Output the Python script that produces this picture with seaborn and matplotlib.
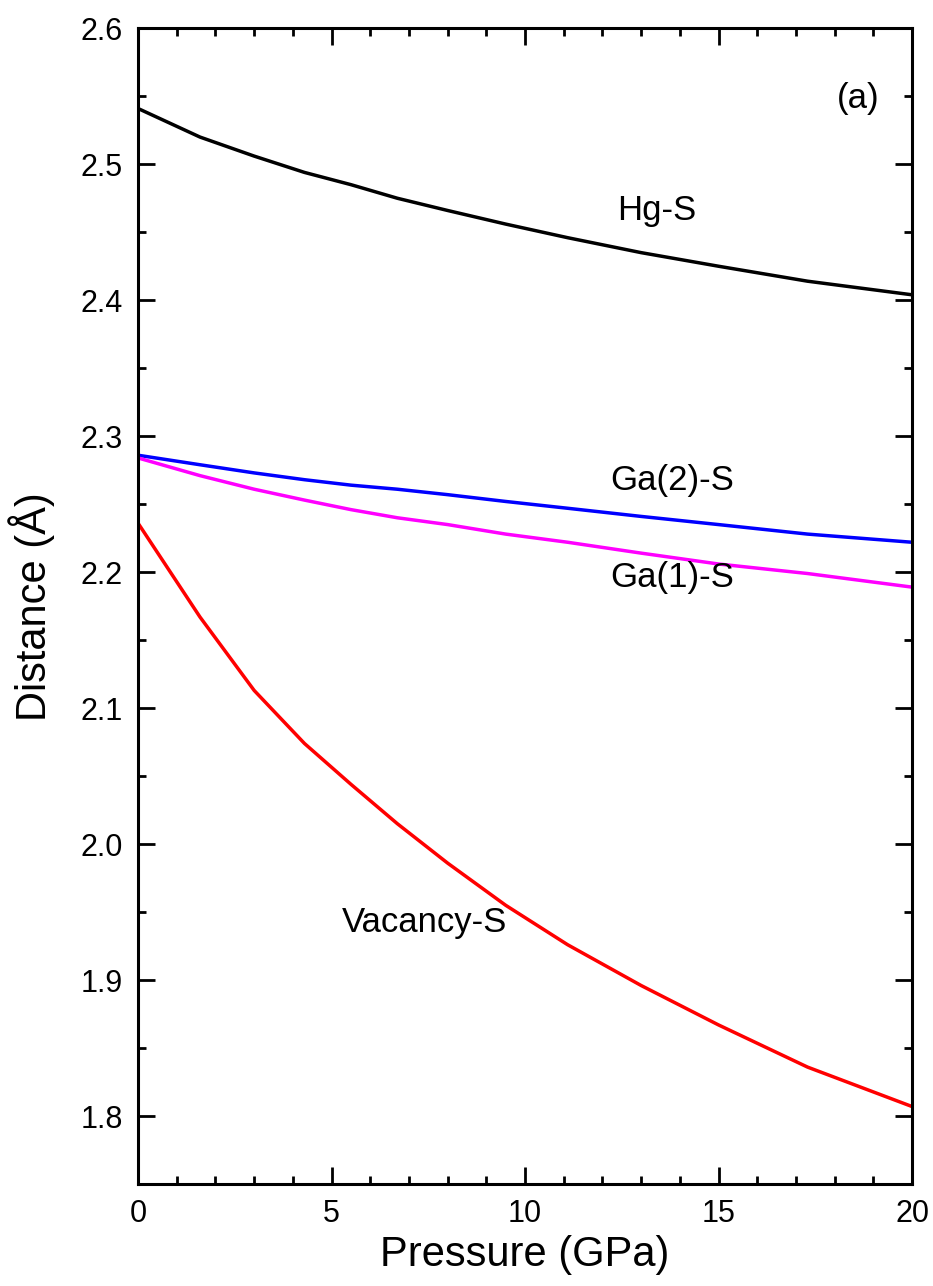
import numpy as np
import pandas as pd
import matplotlib
matplotlib.use("Agg")
import matplotlib.pyplot as plt
import seaborn as sns
from matplotlib.ticker import MultipleLocator

# ---- data ----
pressure = [0, 1.6, 3.0, 4.3, 5.5, 6.7, 8.0, 9.5, 11.1, 13.0, 15.0, 17.3, 20]
hg_s = [2.541, 2.520, 2.506, 2.494, 2.485, 2.475, 2.466, 2.456, 2.446, 2.435, 2.425, 2.414, 2.404]
ga2_s = [2.286, 2.279, 2.273, 2.268, 2.264, 2.261, 2.257, 2.252, 2.247, 2.241, 2.235, 2.228, 2.222]
ga1_s = [2.284, 2.271, 2.261, 2.253, 2.246, 2.240, 2.235, 2.228, 2.222, 2.214, 2.206, 2.199, 2.189]
vac_s = [2.236, 2.167, 2.113, 2.074, 2.044, 2.015, 1.986, 1.955, 1.926, 1.896, 1.867, 1.836, 1.807]

series_names = ["Hg-S", "Ga(2)-S", "Ga(1)-S", "Vacancy-S"]
series_values = [hg_s, ga2_s, ga1_s, vac_s]
series_colors = ["#000000", "#0000ff", "#ff00ff", "#ff0000"]

x_ticks = [0, 5, 10, 15, 20]
y_ticks = [1.8, 1.9, 2.0, 2.1, 2.2, 2.3, 2.4, 2.5, 2.6]

df = pd.DataFrame({
    "Pressure": np.tile(pressure, len(series_names)),
    "Distance": np.concatenate(series_values),
    "Bond": np.repeat(series_names, len(pressure)),
})

sns.set_style("ticks")
plt.rcParams["font.family"] = ["Liberation Sans", "DejaVu Sans"]
plt.rcParams["text.color"] = "black"
plt.rcParams["axes.labelcolor"] = "black"
plt.rcParams["xtick.color"] = "black"
plt.rcParams["ytick.color"] = "black"

fig = plt.figure(figsize=(9.33, 12.86), dpi=100)
ax = fig.add_axes([0.148, 0.0793, 0.8295, 0.8987])

sns.lineplot(data=df, x="Pressure", y="Distance", hue="Bond",
             palette=dict(zip(series_names, series_colors)),
             hue_order=series_names, linewidth=2.5, legend=False, ax=ax,
             sort=False)

ax.set_xlim(0, 20)
ax.set_ylim(1.75, 2.6)
ax.set_xticks(x_ticks)
ax.set_yticks(y_ticks)
ax.set_xticklabels([str(t) for t in x_ticks])
ax.set_yticklabels([f"{t:.1f}" for t in y_ticks])
ax.xaxis.set_minor_locator(MultipleLocator(1))
ax.yaxis.set_minor_locator(MultipleLocator(0.05))

ax.tick_params(which="both", direction="in", top=True, right=True,
               width=2.0, color="black", labelcolor="black")
ax.tick_params(which="major", length=12, labelsize=22, pad=11)
ax.tick_params(which="minor", length=6)
for sp in ax.spines.values():
    sp.set_linewidth(2.2)
    sp.set_color("black")

ax.set_xlabel("Pressure (GPa)", fontsize=30, labelpad=4, color="black")
ax.set_ylabel("Distance (Å)", fontsize=30, labelpad=18, color="black")

ax.text(13.4, 2.466, "Hg-S", fontsize=25, ha="center", va="center")
ax.text(13.8, 2.2676, "Ga(2)-S", fontsize=25, ha="center", va="center")
ax.text(13.8, 2.196, "Ga(1)-S", fontsize=25, ha="center", va="center")
ax.text(7.4, 1.942, "Vacancy-S", fontsize=25, ha="center", va="center")
ax.text(18.6, 2.548, "(a)", fontsize=25, ha="center", va="center")

fig.savefig("out.png", dpi=100)
